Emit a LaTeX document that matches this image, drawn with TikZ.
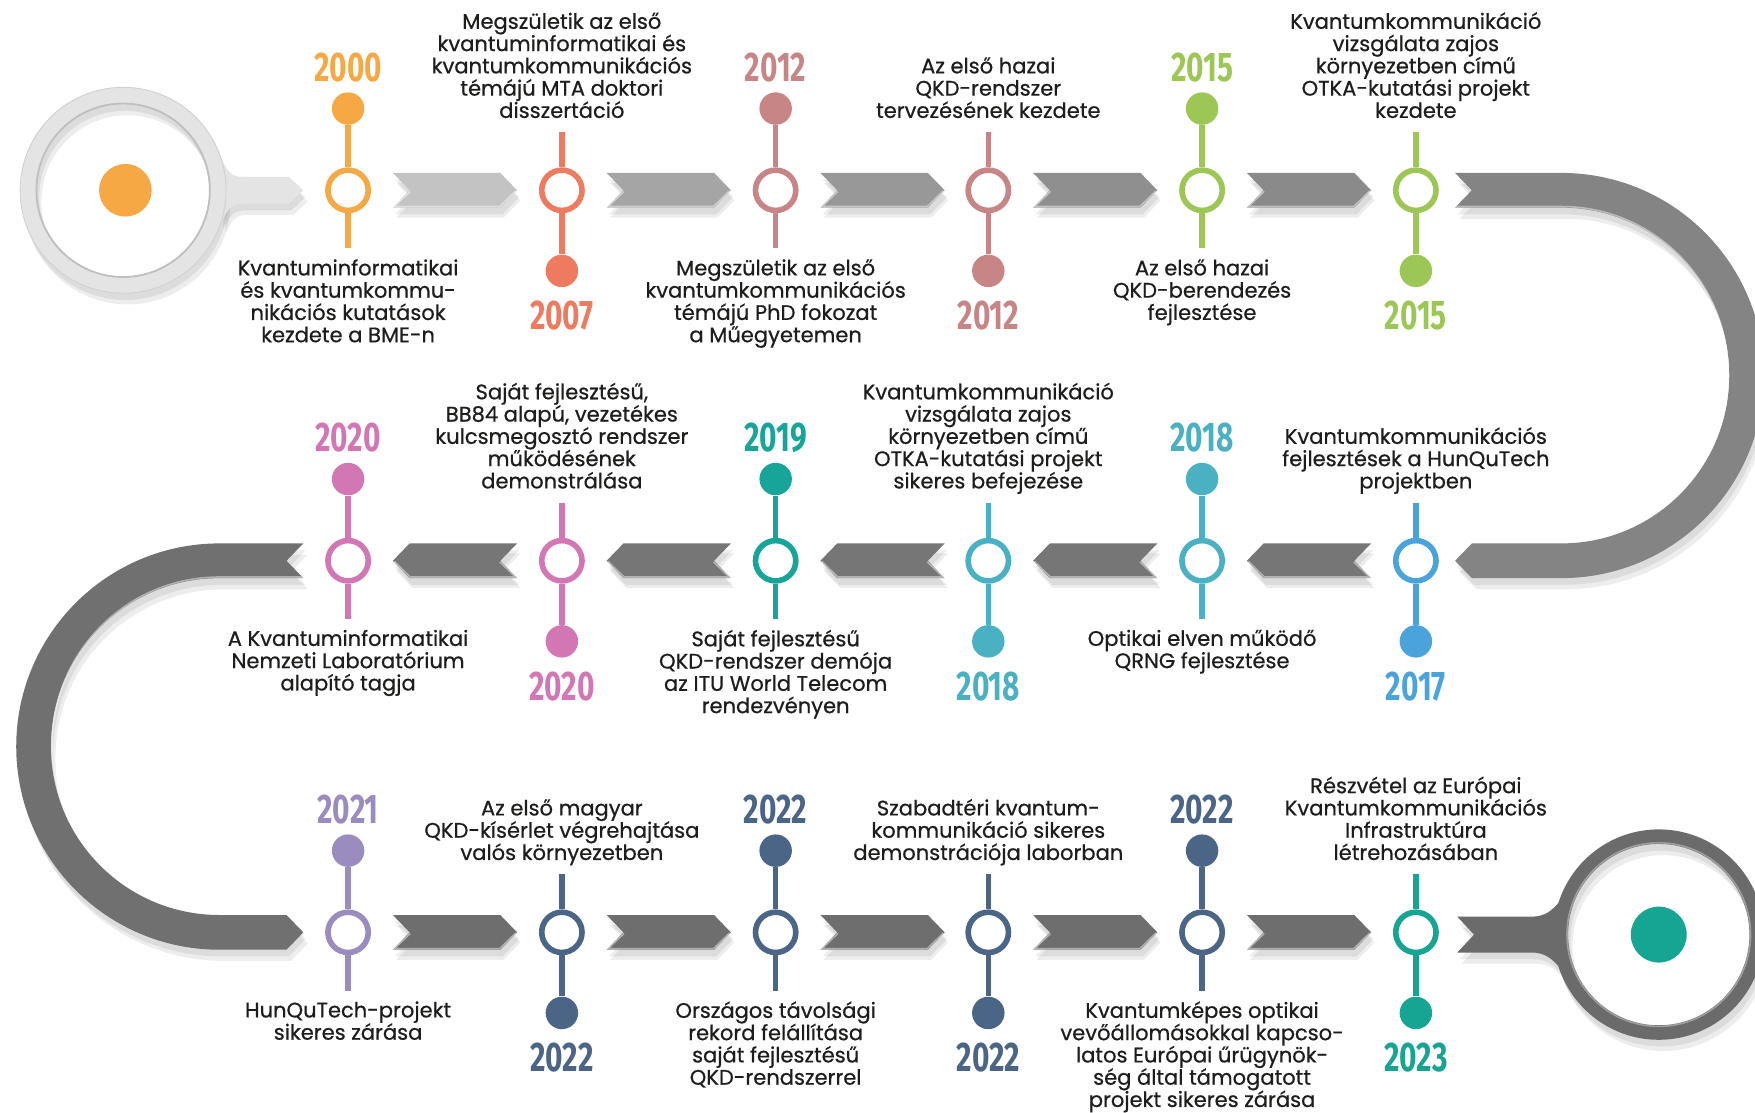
\documentclass[tikz,border=0pt]{standalone}
\usepackage{fontspec}
\setmainfont{Poppins}[FakeBold=0.6]
\newfontfamily\yearfont{Fira Sans}[FakeStretch=0.72]
\newcommand\descfont{\fontsize{18.8}{19.9}\selectfont\lineskiplimit=-30pt\relax\lineskip=0pt\relax}
\definecolor{txt}{HTML}{1D1D1B}
\definecolor{cOrange}{HTML}{F5A843}
\definecolor{cCoral}{HTML}{EE7B60}
\definecolor{cRose}{HTML}{C88585}
\definecolor{cGreen}{HTML}{9CC754}
\definecolor{cBlue}{HTML}{4AA4DB}
\definecolor{cTealBlue}{HTML}{4AB1C3}
\definecolor{cTeal}{HTML}{18A599}
\definecolor{cPink}{HTML}{D277B4}
\definecolor{cLav}{HTML}{9A8CBF}
\definecolor{cSlate}{HTML}{4B6586}
\definecolor{cTealB}{HTML}{17A593}
\definecolor{gA}{HTML}{C3C3C3}
\definecolor{gB}{HTML}{A5A5A5}
\definecolor{gC}{HTML}{989898}
\definecolor{gD}{HTML}{8F8F8F}
\definecolor{gE}{HTML}{8A8A8A}
\definecolor{gU}{HTML}{848484}
\definecolor{gRow}{HTML}{767676}
\definecolor{gL}{HTML}{707070}
\definecolor{gRowC}{HTML}{6E6E6E}
\definecolor{gEnd}{HTML}{6B6B6B}
\definecolor{gStart}{HTML}{E4E4E4}

\tikzset{
  ring/.style={circle, draw, line width=5pt, fill=white, minimum size=36pt, inner sep=0pt},
  evdot/.style={circle, minimum size=29pt, inner sep=0pt},
  stem/.style={line width=4.8pt},
  yearlabel/.style={font=\yearfont\bfseries\fontsize{37}{37}\selectfont, inner sep=0pt},
  desc/.style={font=\descfont, align=center, inner sep=0pt, text=txt},
  shadowfill/.style={fill=black, opacity=0.07},
  bevel/.style={draw=white, opacity=0.45, line width=1.4pt},
}

% event with dot and year on top, text below
\newcommand\evtop[6]{%
  \node[ring, draw=#4] (#1) at (#2,#3) {};
  \node[evdot, fill=#4] (#1d) at (#2,#3-73) {};
  \coordinate (#1e) at (#2,#3+52);
  \draw[stem, #4] (#1d) -- (#1);
  \draw[stem, #4] (#1) -- (#1e);
  \node[yearlabel, text=#4] (#1y) at (#2,#3-110) {#5};
  \node[desc, anchor=north] (#1t) at (#2,#3+61.5) {\strut #6};
}
% event with dot and year below, text above
\newcommand\evbot[6]{%
  \node[ring, draw=#4] (#1) at (#2,#3) {};
  \node[evdot, fill=#4] (#1d) at (#2,#3+72) {};
  \coordinate (#1e) at (#2,#3-52);
  \draw[stem, #4] (#1e) -- (#1);
  \draw[stem, #4] (#1) -- (#1d);
  \node[yearlabel, text=#4] (#1y) at (#2,#3+112) {#5};
  \node[desc, anchor=south] (#1t) at (#2,#3-58.5) {#6\strut};
}
% right pointing chevron path: x0 x1 y
\newcommand\chevRp[3]{(#1,#3-15.5) -- (#2-15,#3-15.5) -- (#2,#3) -- (#2-15,#3+15.5) -- (#1,#3+15.5) -- (#1+15,#3) -- cycle}
% left pointing chevron path: x0 (tip) x1 (tail) y
\newcommand\chevLp[3]{(#2,#3-15.5) -- (#1+15,#3-15.5) -- (#1,#3) -- (#1+15,#3+15.5) -- (#2,#3+15.5) -- (#2-15,#3) -- cycle}
\newcommand\chevR[4]{%
  \fill[shadowfill, shift={(2,6)}] \chevRp{#1}{#2}{#3};
  \fill[shadowfill, shift={(3,9)}] \chevRp{#1}{#2}{#3};
  \fill[#4] \chevRp{#1}{#2}{#3};
  \draw[bevel] (#1+15.5,#3+1) -- (#1+1.5,#3+14.5) -- (#2-15.5,#3+14.5) -- (#2-1.2,#3+0.5);
}
\newcommand\chevL[4]{%
  \fill[shadowfill, shift={(2,6)}] \chevLp{#1}{#2}{#3};
  \fill[shadowfill, shift={(3,9)}] \chevLp{#1}{#2}{#3};
  \fill[#4] \chevLp{#1}{#2}{#3};
  \draw[bevel] (#1+1.2,#3+0.5) -- (#1+15.5,#3+14.5) -- (#2-1.5,#3+14.5) -- (#2-15.5,#3+1);
}
\def\rightU{(1300,154.5) -- (1395,154.5) arc[start angle=90,end angle=-90,radius=181pt] -- (1315,516.5) -- (1300,501) -- (1315,485.5) -- (1395,485.5) arc[start angle=-90,end angle=90,radius=150pt] -- (1300,185.5) -- (1315,170) -- cycle}
\def\leftU{(271,485.5) -- (196,485.5) arc[start angle=90,end angle=270,radius=181.5pt] -- (256,848.5) -- (271,833) -- (256,817.5) -- (196,817.5) arc[start angle=270,end angle=90,radius=150.5pt] -- (271,516.5) -- (256,501) -- cycle}
\def\startH{(197.5,141.6) .. controls (203,152) and (206,158) .. (216,158) -- (258,158) -- (271,170) -- (258,182) -- (216,182) .. controls (206,182) and (203,188) .. (197.5,198.4) -- cycle}
\def\endH{(1302,819) -- (1368,819) .. controls (1380,819) and (1386,814) .. (1393,806) -- (1393,864) .. controls (1386,856) and (1380,851) .. (1368,851) -- (1302,851) -- (1317,835) -- cycle}

\begin{document}
\begin{tikzpicture}[x=1pt,y=-1pt]
\useasboundingbox (0,0) rectangle (1568,994);
\fill[white] (0,0) rectangle (1568,994);

% ---------- shadows of the big shapes
\foreach \s in {{(2,6)},{(4,10)}}{
  \fill[shadowfill, shift=\s] \rightU;
  \fill[shadowfill, shift=\s] \leftU;
  \fill[shadowfill, shift=\s] \startH;
  \fill[shadowfill, shift=\s, even odd rule] (110,170) circle[radius=92pt] (110,170) circle[radius=77pt];
  \fill[shadowfill, shift=\s] \endH;
  \fill[shadowfill, shift=\s, even odd rule] (1482,835) circle[radius=94pt] (1482,835) circle[radius=81pt];
}

% ---------- start magnifier
\fill[gStart] \startH;
\fill[gStart, even odd rule] (110,170) circle[radius=92pt] (110,170) circle[radius=77pt];
\draw[black!18, line width=0.8pt] (110,170) circle[radius=92pt];
\draw[black!25, line width=1.6pt] (110,170) circle[radius=77.5pt];
\node[circle, fill=cOrange, minimum size=47pt, inner sep=0pt] (startdot) at (112,170) {};

% ---------- end magnifier
\fill[gEnd] \endH;
\fill[gEnd, even odd rule] (1482,835) circle[radius=94pt] (1482,835) circle[radius=81pt];
\draw[white, opacity=.35, line width=1.4pt] (1482,835) circle[radius=82pt];
\node[circle, fill=cTealB, minimum size=50pt, inner sep=0pt] (enddot) at (1482,835) {};

% ---------- U turns
\fill[gU] \rightU;
\draw[bevel] (1300,184.5) -- (1395,184.5) arc[start angle=90,end angle=-90,radius=149pt];
\fill[gL] \leftU;
\draw[bevel] (271,515.5) -- (196,515.5) arc[start angle=90,end angle=270,radius=149.5pt];

% ---------- chevrons
\chevR{351}{462}{170}{gA}
\chevR{542}{653}{170}{gB}
\chevR{733}{844}{170}{gC}
\chevR{923}{1034}{170}{gD}
\chevR{1114}{1225}{170}{gE}

\chevL{351}{462}{501}{gRow}
\chevL{542}{653}{501}{gRow}
\chevL{733}{844}{501}{gRow}
\chevL{923}{1034}{501}{gRow}
\chevL{1114}{1225}{501}{gRow}

\chevR{351}{462}{833}{gRowC}
\chevR{542}{653}{833}{gRowC}
\chevR{733}{844}{833}{gRowC}
\chevR{923}{1034}{833}{gRowC}
\chevR{1114}{1225}{833}{gRowC}

% ---------- row 1
\evtop{e1}{311}{170}{cOrange}{2000}{Kvantuminformatikai\\és kvantumkommu-\\nikációs kutatások\\kezdete a BME-n}
\evbot{e2}{502}{170}{cCoral}{2007}{Megszületik az első\\kvantuminformatikai és\\kvantumkommunikációs\\témájú MTA doktori\\disszertáció}
\evtop{e3}{693}{170}{cRose}{2012}{Megszületik az első\\kvantumkommunikációs\\témájú PhD fokozat\\a Műegyetemen}
\evbot{e4}{883}{170}{cRose}{2012}{Az első hazai\\QKD-rendszer\\tervezésének kezdete}
\evtop{e5}{1074}{170}{cGreen}{2015}{Az első hazai\\QKD-berendezés\\fejlesztése}
\evbot{e6}{1265}{170}{cGreen}{2015}{Kvantumkommunikáció\\vizsgálata zajos\\környezetben című\\OTKA-kutatási projekt\\kezdete}

% ---------- row 2
\evbot{e7}{1265}{501}{cBlue}{2017}{Kvantumkommunikációs\\fejlesztések a HunQuTech\\projektben}
\evtop{e8}{1074}{501}{cTealBlue}{2018}{Optikai elven működő\\QRNG fejlesztése}
\evbot{e9}{883}{501}{cTealBlue}{2018}{Kvantumkommunikáció\\vizsgálata zajos\\környezetben című\\OTKA-kutatási projekt\\sikeres befejezése}
\evtop{e10}{693}{501}{cTeal}{2019}{Saját fejlesztésű\\QKD-rendszer demója\\az ITU World Telecom\\rendezvényen}
\evbot{e11}{502}{501}{cPink}{2020}{Saját fejlesztésű,\\BB84 alapú, vezetékes\\kulcsmegosztó rendszer\\működésének\\demonstrálása}
\evtop{e12}{311}{501}{cPink}{2020}{A Kvantuminformatikai\\Nemzeti Laboratórium\\alapító tagja}

% ---------- row 3
\evtop{e13}{311}{833}{cLav}{2021}{HunQuTech-projekt\\sikeres zárása}
\evbot{e14}{502}{833}{cSlate}{2022}{Az első magyar\\QKD-kísérlet végrehajtása\\valós környezetben}
\evtop{e15}{693}{833}{cSlate}{2022}{Országos távolsági\\rekord felállítása\\saját fejlesztésű\\QKD-rendszerrel}
\evbot{e16}{883}{833}{cSlate}{2022}{Szabadtéri kvantum-\\kommunikáció sikeres\\demonstrációja laborban}
\evtop{e17}{1074}{833}{cSlate}{2022}{Kvantumképes optikai\\vevőállomásokkal kapcso-\\latos Európai űrügynök-\\ség által támogatott\\projekt sikeres zárása}
\evbot{e18}{1265}{833}{cTealB}{2023}{Részvétel az Európai\\Kvantumkommunikációs\\Infrastruktúra\\létrehozásában}
\end{tikzpicture}
\end{document}
